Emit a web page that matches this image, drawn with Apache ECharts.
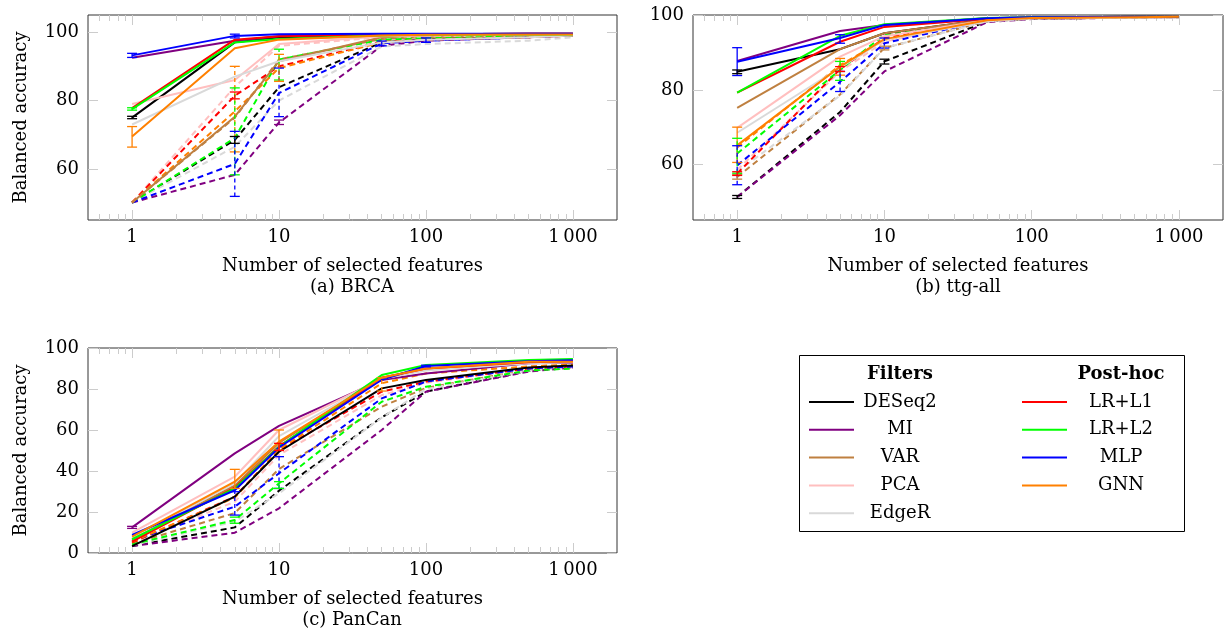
<!DOCTYPE html>
<html><head><meta charset="utf-8">
<script src="https://cdn.jsdelivr.net/npm/echarts@6/dist/echarts.min.js"></script>
<style>html,body{margin:0;padding:0;background:#fff}#c{width:1226px;height:637px}</style>
</head><body><div id="c"></div>
<script>
// ---------------- data ----------------
const xValues = [1, 5, 10, 50, 100, 500, 1000];
const methods = ['DESeq2','MI','VAR','PCA','EdgeR','LR+L1','LR+L2','MLP','GNN'];
const filterNames = ['DESeq2','MI','VAR','PCA','EdgeR'];
const posthocNames = ['LR+L1','LR+L2','MLP','GNN'];
const xTickValues = [1, 10, 100, 1000];
const xTickLabels = ['1', '10', '100', '1\u2009000'];
const xMinorTickValues = [0.6,0.7,0.8,0.9,2,3,4,5,6,7,8,9,20,30,40,50,60,70,80,90,200,300,400,500,600,700,800,900];
const yTicksBRCA = [60, 80, 100];
const yTicksTTG = [60, 80, 100];
const yTicksPanCan = [0, 20, 40, 60, 80, 100];
const captions = ['(a) BRCA', '(b) ttg-all', '(c) PanCan'];
const xAxisTitle = 'Number of selected features';
const yAxisTitle = 'Balanced accuracy';

// rows follow `methods` order
const brcaSolid = [
  [75.0, 97.0, 98.5, 99.3, 99.4, 99.5, 99.5],
  [92.5, 97.5, 98.8, 99.3, 99.4, 99.5, 99.5],
  [50.2, 75.3, 91.5, 98.5, 99.0, 99.3, 99.3],
  [79.0, 86.0, 96.5, 98.8, 99.0, 99.2, 99.3],
  [73.0, 87.0, 91.5, 97.0, 97.8, 98.5, 99.0],
  [77.8, 97.8, 98.8, 99.3, 99.4, 99.5, 99.5],
  [77.5, 97.0, 98.0, 99.0, 99.2, 99.3, 99.3],
  [93.2, 98.9, 99.4, 99.5, 99.5, 99.5, 99.5],
  [69.5, 95.3, 97.8, 99.0, 99.2, 99.3, 99.3]
];
const brcaDashed = [
  [50.2, 68.5, 83.9, 97.0, 98.0, 98.8, 99.0],
  [50.2, 58.3, 73.6, 96.0, 97.5, 98.5, 99.0],
  [50.2, 75.0, 92.0, 98.0, 98.5, 99.0, 99.2],
  [50.2, 84.0, 96.0, 98.5, 98.8, 99.0, 99.2],
  [50.2, 66.5, 80.0, 95.8, 96.5, 97.5, 98.5],
  [50.2, 81.4, 90.0, 97.2, 97.8, 98.5, 99.0],
  [50.2, 69.0, 92.0, 97.8, 98.2, 98.8, 99.0],
  [50.2, 61.5, 82.2, 96.7, 97.5, 98.5, 99.0],
  [50.2, 76.8, 89.5, 97.0, 97.8, 98.5, 99.0]
];
const ttgSolid = [
  [84.9, 91.0, 95.3, 99.0, 99.5, 99.7, 99.7],
  [87.8, 95.9, 97.5, 99.3, 99.6, 99.7, 99.7],
  [75.2, 91.0, 95.3, 99.0, 99.5, 99.6, 99.7],
  [69.8, 89.0, 94.5, 98.8, 99.4, 99.6, 99.7],
  [68.5, 86.0, 93.5, 98.5, 99.3, 99.5, 99.6],
  [79.3, 93.0, 97.0, 99.2, 99.5, 99.7, 99.7],
  [79.3, 94.6, 97.7, 99.4, 99.6, 99.7, 99.7],
  [87.6, 94.0, 97.5, 99.3, 99.6, 99.7, 99.7],
  [65.1, 86.3, 93.7, 98.8, 99.4, 99.6, 99.7]
];
const ttgDashed = [
  [51.2, 74.1, 87.7, 98.5, 99.2, 99.5, 99.6],
  [51.2, 73.2, 85.0, 98.3, 99.1, 99.5, 99.6],
  [56.6, 78.8, 91.3, 98.6, 99.2, 99.5, 99.6],
  [58.5, 85.0, 93.0, 98.8, 99.3, 99.5, 99.6],
  [58.0, 78.5, 91.3, 98.5, 99.2, 99.5, 99.6],
  [57.5, 85.6, 94.0, 98.9, 99.4, 99.6, 99.7],
  [62.9, 85.4, 94.9, 99.0, 99.4, 99.6, 99.7],
  [59.7, 82.2, 92.6, 98.8, 99.3, 99.6, 99.7],
  [64.5, 86.7, 93.5, 98.8, 99.3, 99.6, 99.7]
];
const pancanSolid = [
  [3.4, 27.5, 49.4, 80.3, 84.4, 90.5, 91.5],
  [12.5, 48.6, 62.0, 84.4, 87.6, 92.5, 92.8],
  [6.5, 33.0, 53.7, 85.5, 89.5, 93.0, 93.5],
  [9.9, 37.2, 60.0, 85.0, 89.5, 92.8, 93.2],
  [7.5, 34.0, 57.0, 85.0, 89.0, 92.5, 93.0],
  [5.5, 32.0, 52.0, 85.5, 90.0, 93.0, 93.5],
  [6.7, 31.5, 51.9, 86.8, 91.7, 94.1, 94.6],
  [8.8, 30.6, 51.5, 84.5, 91.2, 93.5, 94.0],
  [8.0, 34.8, 54.3, 85.5, 90.0, 93.3, 93.3]
];
const pancanDashed = [
  [3.4, 12.5, 30.4, 66.2, 78.7, 89.0, 90.5],
  [3.4, 9.9, 21.8, 60.0, 78.7, 88.5, 90.5],
  [4.5, 19.5, 41.0, 71.4, 80.5, 89.5, 90.8],
  [5.0, 25.0, 47.8, 77.0, 83.0, 90.0, 91.0],
  [3.8, 15.3, 29.1, 66.0, 80.0, 89.0, 90.5],
  [5.0, 27.5, 50.2, 78.7, 83.6, 90.0, 91.0],
  [4.2, 16.1, 34.0, 73.8, 81.1, 89.0, 90.0],
  [6.0, 22.6, 38.9, 75.4, 83.6, 90.0, 91.0],
  [5.5, 27.0, 50.5, 82.8, 87.6, 91.0, 92.0]
];
// error bars: [method, style, x, low, high]
const brcaErr = [
  ['GNN','solid',1,66.4,72.4], ['MLP','solid',1,92.6,93.8], ['MLP','solid',5,98.3,99.4],
  ['DESeq2','solid',1,74.7,75.4], ['LR+L2','solid',1,77.2,77.9],
  ['GNN','dashed',5,65,90], ['LR+L2','dashed',5,58.3,83.7], ['MLP','dashed',5,52,71],
  ['DESeq2','dashed',5,67.5,69.5], ['LR+L1','dashed',5,80.5,82.5],
  ['LR+L2','dashed',10,86,95], ['MLP','dashed',10,75.3,89.5], ['MI','dashed',10,73,74.3],
  ['GNN','dashed',10,85.6,93.5], ['MLP','dashed',50,96,97.4], ['MLP','dashed',100,97,98.3]
];
const ttgErr = [
  ['MLP','solid',1,83.9,91.4], ['DESeq2','solid',1,84.4,85.4], ['GNN','solid',1,60.5,70],
  ['LR+L2','dashed',1,57.6,67], ['MLP','dashed',1,54.5,65], ['DESeq2','dashed',1,50.8,51.6],
  ['VAR','dashed',1,56,57.2], ['LR+L1','dashed',1,57,58],
  ['MLP','solid',5,92.6,94.9], ['GNN','solid',5,84,88.5], ['LR+L2','dashed',5,82.6,87.7],
  ['MLP','dashed',5,79.6,85], ['LR+L1','dashed',5,85,86.3],
  ['MLP','dashed',10,91.3,94], ['DESeq2','dashed',10,87,88.3], ['VAR','dashed',10,90.8,91.8]
];
const pancanErr = [
  ['GNN','solid',5,31.5,40.8], ['MLP','dashed',5,18.5,29.9], ['LR+L2','dashed',5,14.5,17.5],
  ['MI','solid',1,12,13], ['GNN','solid',10,50.2,60], ['MLP','dashed',10,31.5,47],
  ['LR+L2','dashed',10,31.5,34.8], ['LR+L1','solid',10,50,53.5],
  ['GNN','dashed',50,79,85.5], ['MLP','solid',100,90.8,91.6]
];

// ---------------- style / layout ----------------
const colors = {
  'DESeq2':'#000000','MI':'#800080','VAR':'#bf8040','PCA':'#ffbfbf','EdgeR':'#d9d9d9',
  'LR+L1':'#ff0000','LR+L2':'#00ff00','MLP':'#0000ff','GNN':'#ff8000'
};
const FONT = 'DejaVu Serif';
const FS = 18;
const TICK = '#cccccc';
const grids = [
  {left:88, top:15, width:529, height:205},
  {left:693, top:15, width:530, height:205},
  {left:88, top:348, width:529, height:205}
];
const panels = [
  {solid:brcaSolid, dashed:brcaDashed, err:brcaErr, yTicks:yTicksBRCA, yMin:45.1, yMax:105, yName:true},
  {solid:ttgSolid, dashed:ttgDashed, err:ttgErr, yTicks:yTicksTTG, yMin:45.0, yMax:100.2, yName:false},
  {solid:pancanSolid, dashed:pancanDashed, err:pancanErr, yTicks:yTicksPanCan, yMin:0, yMax:100, yName:true}
];

function xAxisDef(g, pos, values, len, withLabels, name) {
  return {
    type:'log', logBase:10, gridIndex:g, position:pos, min:0.5012, max:1995,
    axisLine:{show:false}, splitLine:{show:false}, minorTick:{show:false},
    axisTick:{show:true, inside:true, length:len, customValues:values, lineStyle:{color:TICK, width:1}},
    axisLabel: withLabels ? {
      show:true, customValues:values, margin:8, fontFamily:FONT, fontSize:FS, color:'#000',
      formatter: v => { const r = Math.round(v); const k = xTickValues.indexOf(r); return k >= 0 ? xTickLabels[k] : String(r); }
    } : {show:false},
    name: name || '', nameLocation:'middle', nameGap:37,
    nameTextStyle:{fontFamily:FONT, fontSize:FS, color:'#000'}
  };
}
function yAxisDef(g, pos, p, withLabels) {
  return {
    type:'value', gridIndex:g, position:pos, min:p.yMin, max:p.yMax,
    axisLine:{show:false}, splitLine:{show:false},
    axisTick:{show:true, inside:true, length:10, customValues:p.yTicks, lineStyle:{color:TICK, width:1}},
    axisLabel: withLabels ? {show:true, customValues:p.yTicks, margin:9, fontFamily:FONT, fontSize:FS, color:'#000'} : {show:false},
    name: (withLabels && p.yName) ? yAxisTitle : '', nameLocation:'middle', nameGap:58, nameRotate:90,
    nameTextStyle:{fontFamily:FONT, fontSize:FS, color:'#000'}
  };
}

const xAxes = [], yAxes = [], series = [];
panels.forEach((p, g) => {
  xAxes.push(xAxisDef(g, 'bottom', xTickValues, 10, true, xAxisTitle));
  xAxes.push(xAxisDef(g, 'bottom', xMinorTickValues, 6, false));
  xAxes.push(xAxisDef(g, 'top', xTickValues, 10, false));
  xAxes.push(xAxisDef(g, 'top', xMinorTickValues, 6, false));
  yAxes.push(yAxisDef(g, 'left', p, true));
  yAxes.push(yAxisDef(g, 'right', p, false));
  const addLine = (vals, m, dashed) => series.push({
    type:'line', name:m + (dashed ? ' (dashed)' : ''), xAxisIndex:g*4, yAxisIndex:g*2,
    data: xValues.map((x, j) => [x, vals[j]]), symbol:'none', silent:true,
    lineStyle:{color:colors[m], width:2, type: dashed ? [6,4] : 'solid'}, z: dashed ? 2 : 3
  });
  methods.forEach((m, i) => addLine(p.dashed[i], m, true));
  methods.forEach((m, i) => addLine(p.solid[i], m, false));
  series.push({
    type:'custom', xAxisIndex:g*4, yAxisIndex:g*2, silent:true, z:4,
    data: p.err.map(e => [e[2], e[3], e[4], methods.indexOf(e[0]), e[1] === 'dashed' ? 1 : 0]),
    encode:{x:0, y:[1,2]},
    renderItem:(params, api) => {
      const x = api.value(0), lo = api.value(1), hi = api.value(2);
      const c = colors[methods[api.value(3)]], d = api.value(4) === 1;
      const a = api.coord([x, lo]), b = api.coord([x, hi]);
      const vs = {stroke:c, lineWidth:1.3};
      if (d) vs.lineDash = [4,3];
      const cw = 5;
      return {type:'group', children:[
        {type:'line', shape:{x1:a[0], y1:a[1], x2:b[0], y2:b[1]}, style:vs},
        {type:'line', shape:{x1:a[0]-cw, y1:a[1], x2:a[0]+cw, y2:a[1]}, style:{stroke:c, lineWidth:1.3}},
        {type:'line', shape:{x1:b[0]-cw, y1:b[1], x2:b[0]+cw, y2:b[1]}, style:{stroke:c, lineWidth:1.3}}
      ]};
    }
  });
});

// captions and legend as graphic elements
const graphic = [];
const captionX = [352, 958, 352];
const captionY = [287, 287, 620];
captions.forEach((t, i) => graphic.push({type:'text', x:captionX[i], y:captionY[i],
  style:{text:t, font:FS + 'px "' + FONT + '"', fill:'#000', align:'center', verticalAlign:'middle'}}));
graphic.push({type:'rect', shape:{x:799.5, y:355.5, width:385, height:176}, style:{fill:'#fff', stroke:'#000', lineWidth:1}, z:10});
const legendCols = [
  {title:'Filters', names:filterNames, lx:809, tx:900},
  {title:'Post-hoc', names:posthocNames, lx:1022, tx:1121}
];
legendCols.forEach(col => {
  graphic.push({type:'text', x:col.tx, y:374, z:11,
    style:{text:col.title, font:'bold ' + FS + 'px "' + FONT + '"', fill:'#000', align:'center', verticalAlign:'middle'}});
  col.names.forEach((n, i) => {
    const y = 402 + 27.8 * i;
    graphic.push({type:'line', z:11, shape:{x1:col.lx, y1:y, x2:col.lx + 45, y2:y}, style:{stroke:colors[n], lineWidth:2}});
    graphic.push({type:'text', x:col.tx, y:y, z:11,
      style:{text:n, font:FS + 'px "' + FONT + '"', fill:'#000', align:'center', verticalAlign:'middle'}});
  });
});

const chart = echarts.init(document.getElementById('c'));
chart.setOption({
  animation:false,
  backgroundColor:'#ffffff',
  grid: grids.map(g => Object.assign({show:true, borderColor:'#333', borderWidth:1, backgroundColor:'transparent'}, g)),
  xAxis: xAxes,
  yAxis: yAxes,
  series: series,
  graphic: graphic
});
</script>
</body></html>
